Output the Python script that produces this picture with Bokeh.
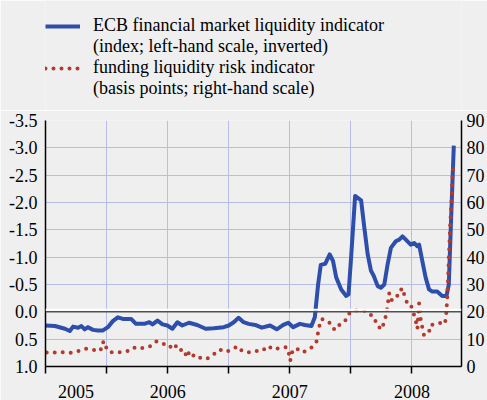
from bokeh.plotting import figure
from bokeh.layouts import column
from bokeh.models import (Range1d, LinearAxis, FixedTicker, Span, Legend,
                          LegendItem, PrintfTickFormatter)
from bokeh.embed import file_html
from bokeh.resources import INLINE

# ---- data (decimal years) ----
ecb_t = [2005.500, 2005.577, 2005.659, 2005.699, 2005.726, 2005.767, 2005.794,
         2005.821, 2005.848, 2005.889, 2005.929, 2005.970, 2006.011, 2006.051,
         2006.092, 2006.133, 2006.201, 2006.241, 2006.309, 2006.350, 2006.376,
         2006.417, 2006.458, 2006.498, 2006.539, 2006.580, 2006.620, 2006.675,
         2006.742, 2006.811, 2006.878, 2006.959, 2007.000, 2007.041, 2007.081,
         2007.122, 2007.163, 2007.217, 2007.271, 2007.339, 2007.393, 2007.447,
         2007.488, 2007.528, 2007.583, 2007.624, 2007.677, 2007.705, 2007.732,
         2007.754, 2007.791, 2007.827, 2007.854, 2007.880, 2007.921, 2007.962,
         2007.981, 2008.002, 2008.035, 2008.084, 2008.111, 2008.138, 2008.165,
         2008.187, 2008.220, 2008.246, 2008.274, 2008.301, 2008.328, 2008.368,
         2008.396, 2008.423, 2008.450, 2008.490, 2008.518, 2008.545, 2008.559,
         2008.585, 2008.612, 2008.640, 2008.667, 2008.707, 2008.748, 2008.783,
         2008.802, 2008.821, 2008.843]
ecb_v = [0.25, 0.26, 0.31, 0.35, 0.27, 0.29, 0.26,
         0.32, 0.28, 0.33, 0.34, 0.34, 0.28, 0.17,
         0.10, 0.13, 0.13, 0.22, 0.22, 0.19, 0.23,
         0.16, 0.23, 0.25, 0.31, 0.19, 0.25, 0.20,
         0.24, 0.31, 0.30, 0.28, 0.25, 0.19, 0.11,
         0.19, 0.22, 0.24, 0.29, 0.25, 0.32, 0.24,
         0.20, 0.28, 0.22, 0.24, 0.26, 0.10, -0.50,
         -0.86, -0.88, -1.05, -0.93, -0.63, -0.41, -0.29,
         -0.32, -0.99, -2.12, -2.04, -1.53, -1.05, -0.75,
         -0.66, -0.47, -0.44, -0.50, -0.87, -1.17, -1.29,
         -1.32, -1.38, -1.32, -1.23, -1.26, -1.20, -1.23,
         -0.93, -0.63, -0.41, -0.37, -0.37, -0.29, -0.29,
         -0.50, -1.71, -3.04]

fund_t = [2005.510, 2005.634, 2005.705, 2005.767, 2005.827, 2005.892, 2005.951,
          2005.962, 2005.989, 2006.000, 2006.038, 2006.103, 2006.168, 2006.222,
          2006.250, 2006.303, 2006.368, 2006.409, 2006.466, 2006.512, 2006.559,
          2006.580, 2006.634, 2006.656, 2006.680, 2006.721, 2006.742, 2006.789,
          2006.824, 2006.878, 2006.924, 2006.978, 2007.033, 2007.073, 2007.111,
          2007.168, 2007.217, 2007.276, 2007.320, 2007.366, 2007.415, 2007.474,
          2007.493, 2007.504, 2007.520, 2007.550, 2007.569, 2007.596, 2007.642,
          2007.683, 2007.718, 2007.737, 2007.754, 2007.764, 2007.799, 2007.835,
          2007.867, 2007.905, 2007.949, 2007.976, 2008.016, 2008.071, 2008.116,
          2008.152, 2008.193, 2008.211, 2008.252, 2008.274, 2008.293, 2008.301,
          2008.315, 2008.336, 2008.368, 2008.396, 2008.417, 2008.441, 2008.463,
          2008.490, 2008.512, 2008.531, 2008.545, 2008.559, 2008.567, 2008.572,
          2008.599, 2008.640, 2008.653, 2008.689, 2008.729, 2008.770, 2008.780,
          2008.789, 2008.797, 2008.805, 2008.813, 2008.824, 2008.832, 2008.837]
fund_v = [5.1, 5.2, 5.0, 5.6, 6.5, 6.1, 5.8,
          8.7, 9.1, 6.2, 5.2, 5.2, 5.6, 7.0,
          6.5, 6.8, 7.6, 9.2, 8.3, 6.9, 8.3,
          5.9, 6.2, 3.3, 5.6, 3.5, 2.9, 3.4,
          2.9, 4.5, 6.2, 5.3, 6.4, 7.4, 5.6,
          5.2, 5.7, 5.7, 7.5, 6.2, 6.8, 7.1,
          4.7, 2.1, 5.3, 6.8, 6.2, 5.2, 5.8,
          7.1, 9.0, 13.8, 16.8, 17.4, 16.2, 15.9,
          13.4, 15.2, 16.2, 19.0, 20.3, 20.7, 20.4,
          19.2, 18.0, 15.2, 13.5, 16.4, 19.6, 22.5,
          26.9, 24.1, 25.7, 26.1, 28.7, 25.9, 22.9,
          22.6, 19.8, 16.8, 13.8, 23.1, 20.1, 17.1,
          11.4, 12.6, 15.3, 15.3, 15.9, 15.5, 18.6,
          24.7, 33.7, 42.8, 51.5, 60.6, 69.7, 72.5]

left_ticks = [-3.5, -3.0, -2.5, -2.0, -1.5, -1.0, -0.5, 0.0, 0.5, 1.0]
right_ticks = [0, 10, 20, 30, 40, 50, 60, 70, 80, 90]
year_label_pos = [2005.75, 2006.5, 2007.5, 2008.5]
year_labels = ["2005", "2006", "2007", "2008"]
half_years = [2005.5, 2006.0, 2006.5, 2007.0, 2007.5, 2008.0, 2008.5]
grid_x = [2006.0, 2006.5, 2007.0, 2007.5, 2008.0, 2008.5]

legend_labels = ["ECB financial market liquidity indicator",
                 "(index; left-hand scale, inverted)",
                 "funding liquidity risk indicator",
                 "(basis points; right-hand scale)"]

BG = "#EFEFEF"
BLUE = "#2D4EAA"
RED = "#B33A2E"
GRID = "#B8BCEA"
FONT = "Liberation Serif"
FS = "18px"

# ---------------- legend strip (series drawn out of view; only legend shows) ----
lg = figure(width=487, height=110, output_backend="svg", toolbar_location=None,
            x_axis_type=None, y_axis_type=None, min_border=0,
            x_range=Range1d(0, 1), y_range=Range1d(0, 1),
            background_fill_color=BG, border_fill_color=BG,
            outline_line_color=None)
lg.xgrid.visible = False
lg.ygrid.visible = False
l_blue = lg.line(ecb_t, ecb_v, line_color=BLUE, line_width=4)
l_red = lg.line(fund_t, fund_v, line_color=RED, line_width=4, line_dash="0 8",
                line_cap="round")
l_blank = lg.line(ecb_t, ecb_v, line_alpha=0)
legend = Legend(items=[LegendItem(label=legend_labels[0], renderers=[l_blue]),
                       LegendItem(label=legend_labels[1], renderers=[l_blank]),
                       LegendItem(label=legend_labels[2], renderers=[l_red]),
                       LegendItem(label=legend_labels[3], renderers=[l_blank])],
                location=(0, 11), padding=0, spacing=0, margin=0,
                glyph_width=35, glyph_height=20, label_height=21,
                label_standoff=13, label_text_font=FONT,
                label_text_font_size=FS, label_text_color="black",
                background_fill_alpha=0, border_line_alpha=0)
lg.add_layout(legend, "center")

# ---------------- main chart ----------------
p = figure(width=487, height=290, output_backend="svg", toolbar_location=None,
           x_range=Range1d(2005.5, 2008.906), y_range=Range1d(1.0, -3.5),
           min_border_left=45, min_border_right=23, min_border_top=10,
           min_border_bottom=32, background_fill_color=BG,
           border_fill_color=BG, outline_line_color=None)
p.extra_y_ranges = {"r": Range1d(0, 90)}

p.ygrid.ticker = FixedTicker(ticks=left_ticks)
p.xgrid.ticker = FixedTicker(ticks=grid_x)
for g in (p.xgrid, p.ygrid):
    g.grid_line_color = GRID
    g.grid_line_width = 1

ya = p.yaxis[0]
ya.ticker = FixedTicker(ticks=left_ticks)
ya.formatter = PrintfTickFormatter(format="%.1f")
ya.major_tick_out = 0
ya.major_tick_in = 0
ya.minor_tick_out = 0
ya.minor_tick_in = 0
ya.axis_line_color = "black"
ya.axis_line_width = 1.5
ya.major_label_standoff = 8
ya.major_label_text_font = FONT
ya.major_label_text_font_size = FS
ya.major_label_text_color = "black"

ra = LinearAxis(y_range_name="r", ticker=FixedTicker(ticks=right_ticks))
ra.major_tick_out = 0
ra.major_tick_in = 0
ra.minor_tick_out = 0
ra.minor_tick_in = 0
ra.axis_line_color = "black"
ra.axis_line_width = 1.5
ra.major_label_standoff = 5
ra.major_label_text_font = FONT
ra.major_label_text_font_size = FS
ra.major_label_text_color = "black"
p.add_layout(ra, "right")

xa = p.xaxis[0]
xa.ticker = FixedTicker(ticks=year_label_pos, minor_ticks=half_years)
xa.major_label_overrides = dict(zip(year_label_pos, year_labels))
xa.major_tick_out = 0
xa.major_tick_in = 0
xa.minor_tick_out = 7
xa.minor_tick_in = 0
xa.minor_tick_line_color = "black"
xa.minor_tick_line_width = 1.5
xa.axis_line_color = "black"
xa.axis_line_width = 1.5
xa.major_label_standoff = 11
xa.major_label_text_font = FONT
xa.major_label_text_font_size = FS
xa.major_label_text_color = "black"

p.add_layout(Span(location=-0.04, dimension="width", line_color="white", line_width=2))
p.add_layout(Span(location=0.0, dimension="width", line_color="#505050", line_width=1.5))

p.line(ecb_t, ecb_v, line_color=BLUE, line_width=4, line_join="round")
p.line(fund_t, fund_v, y_range_name="r", line_color=RED, line_width=4,
       line_dash="0 8", line_cap="round")

layout = column(lg, p, spacing=0)
open("out.html", "w").write(file_html(layout, INLINE))
